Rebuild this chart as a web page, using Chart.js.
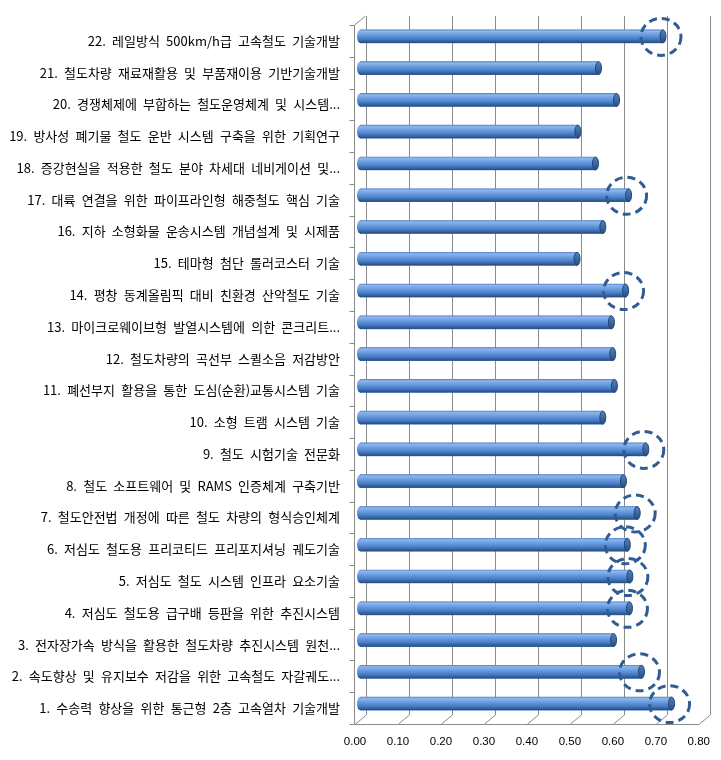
<!DOCTYPE html>
<html><head><meta charset="utf-8">
<script src="https://cdn.jsdelivr.net/npm/chart.js@4/dist/chart.umd.min.js"></script>
<style>html,body{margin:0;padding:0;background:#fff;}#wrap{width:721px;height:760px;position:relative;}</style>
</head><body><div id="wrap"><canvas id="c"></canvas></div>
<script>
const categories = [
  "22. 레일방식 500km/h급 고속철도 기술개발",
  "21. 철도차량 재료재활용 및 부품재이용 기반기술개발",
  "20. 경쟁체제에 부합하는 철도운영체계 및 시스템...",
  "19. 방사성 폐기물 철도 운반 시스템 구축을 위한 기획연구",
  "18. 증강현실을 적용한 철도 분야 차세대 네비게이션 및...",
  "17. 대륙 연결을 위한 파이프라인형 해중철도 핵심 기술",
  "16. 지하 소형화물 운송시스템 개념설계 및 시제품",
  "15. 테마형 첨단 롤러코스터 기술",
  "14. 평창 동계올림픽 대비 친환경 산악철도 기술",
  "13. 마이크로웨이브형 발열시스템에 의한 콘크리트...",
  "12. 철도차량의 곡선부 스퀼소음 저감방안",
  "11. 폐선부지 활용을 통한 도심(순환)교통시스템 기술",
  "10. 소형 트램 시스템 기술",
  "9. 철도 시험기술 전문화",
  "8. 철도 소프트웨어 및 RAMS 인증체계 구축기반",
  "7. 철도안전법 개정에 따른 철도 차량의 형식승인체계",
  "6. 저심도 철도용 프리코티드 프리포지셔닝 궤도기술",
  "5. 저심도 철도 시스템 인프라 요소기술",
  "4. 저심도 철도용 급구배 등판을 위한 추진시스템",
  "3. 전자장가속 방식을 활용한 철도차량 추진시스템 원천...",
  "2. 속도향상 및 유지보수 저감을 위한 고속철도 자갈궤도...",
  "1. 수송력 향상을 위한 통근형 2층 고속열차 기술개발"
];
const values = [0.705, 0.555, 0.597, 0.507, 0.548, 0.625, 0.565, 0.505, 0.618, 0.585, 0.588,
                0.592, 0.565, 0.665, 0.613, 0.645, 0.622, 0.628, 0.627, 0.590, 0.655, 0.725];
const highlighted = [true, false, false, false, false, true, false, false, true, false, false,
                     false, false, true, false, true, true, true, true, false, true, true];
const xMin = 0, xMax = 0.8, xStep = 0.1;

// 3D depth offsets (style)
const DEPTH_X = 11, DEPTH_Y = 9;
const BAR_DX = 5, BAR_DY = -4.5;

const frame3d = {
  id: 'frame3d',
  beforeDraw(chart) {
    chart.ctx.wordSpacing = '3.3px';
  },
  beforeDatasetsDraw(chart) {
    const {ctx, chartArea: a, scales: {x, y}} = chart;
    ctx.save();
    ctx.strokeStyle = '#8a8a8a';
    ctx.lineWidth = 1;
    for (let v = xMin; v <= xMax + 1e-9; v += xStep) {
      const px = Math.round(x.getPixelForValue(v)) + 0.5;
      ctx.beginPath();
      ctx.moveTo(px + DEPTH_X, a.top - DEPTH_Y);
      ctx.lineTo(px + DEPTH_X, a.bottom - DEPTH_Y);
      ctx.lineTo(px, a.bottom);
      ctx.stroke();
    }
    const l = Math.round(a.left) - 0.5;
    ctx.beginPath();
    ctx.moveTo(l, a.bottom + 0.5);
    ctx.lineTo(Math.round(a.right) + 0.5, a.bottom + 0.5);
    ctx.stroke();
    ctx.beginPath();
    ctx.moveTo(l, a.bottom);
    ctx.lineTo(l, a.top);
    ctx.lineTo(l + DEPTH_X, a.top - DEPTH_Y);
    ctx.stroke();
    const n = categories.length;
    const step = (a.bottom - a.top) / n;
    for (let i = 0; i <= n; i++) {
      const ty = Math.round(a.top + i * step) + 0.5;
      ctx.beginPath();
      ctx.moveTo(l - 5, ty);
      ctx.lineTo(l, ty);
      ctx.stroke();
    }
    ctx.restore();
    ctx.save();
    ctx.translate(BAR_DX, BAR_DY);
  },
  afterDatasetsDraw(chart) {
    const {ctx} = chart;
    const meta = chart.getDatasetMeta(0);
    meta.data.forEach((el, i) => {
      const p = el.getProps(['x', 'y', 'base', 'height'], true);
      const h = p.height, top = p.y - h / 2, bot = p.y + h / 2;
      const rx = 3;
      const g = ctx.createLinearGradient(0, top, 0, bot);
      g.addColorStop(0, '#6393d4');
      g.addColorStop(0.12, '#8eb6ea');
      g.addColorStop(0.35, '#6c9fe2');
      g.addColorStop(0.65, '#4c82ca');
      g.addColorStop(0.88, '#34609e');
      g.addColorStop(1, '#244774');
      ctx.beginPath();
      ctx.ellipse(p.base, p.y, rx, h / 2, 0, 0, Math.PI * 2);
      ctx.fillStyle = g; ctx.fill();
      ctx.fillStyle = g;
      ctx.fillRect(p.base, top, p.x - p.base, h);
      ctx.beginPath();
      ctx.ellipse(p.x, p.y, rx, h / 2, 0, 0, Math.PI * 2);
      const g2 = ctx.createLinearGradient(0, top, 0, bot);
      g2.addColorStop(0, '#5182c2');
      g2.addColorStop(1, '#284e82');
      ctx.fillStyle = g2; ctx.fill();
      ctx.strokeStyle = '#234673'; ctx.lineWidth = 1; ctx.stroke();
    });
    meta.data.forEach((el, i) => {
      if (!highlighted[i]) return;
      const p = el.getProps(['x', 'y'], true);
      ctx.beginPath();
      ctx.ellipse(p.x - 2, p.y + 0.5, 20, 18.5, 0, 0, Math.PI * 2);
      ctx.setLineDash([8, 5]);
      ctx.lineWidth = 3;
      ctx.strokeStyle = '#2f5c93';
      ctx.stroke();
      ctx.setLineDash([]);
    });
    ctx.restore();
  }
};

new Chart(document.getElementById('c'), {
  type: 'bar',
  data: {
    labels: categories,
    datasets: [{
      data: values,
      backgroundColor: '#4c82ca',
      borderWidth: 0,
      barThickness: 13
    }]
  },
  options: {
    indexAxis: 'y',
    responsive: true,
    maintainAspectRatio: false,
    animation: false,
    layout: { padding: { top: 25, right: 21, bottom: 0, left: 0 } },
    plugins: { legend: { display: false }, tooltip: { enabled: false } },
    scales: {
      x: {
        min: xMin, max: xMax,
        grid: { display: false, drawTicks: false },
        border: { display: false },
        ticks: {
          stepSize: xStep,
          padding: 11,
          color: '#000',
          font: { family: 'Liberation Sans', size: 11.5 },
          callback: v => Number(v).toFixed(2)
        },
        afterFit(s) { s.height = 36; }
      },
      y: {
        grid: { display: false, drawTicks: false },
        border: { display: false },
        ticks: {
          autoSkip: false,
          padding: 15,
          color: '#000',
          font: { family: 'Noto Sans CJK KR', size: 13 }
        },
        afterFit(s) { s.width = 355; }
      }
    }
  },
  plugins: [frame3d]
});
</script></body></html>
